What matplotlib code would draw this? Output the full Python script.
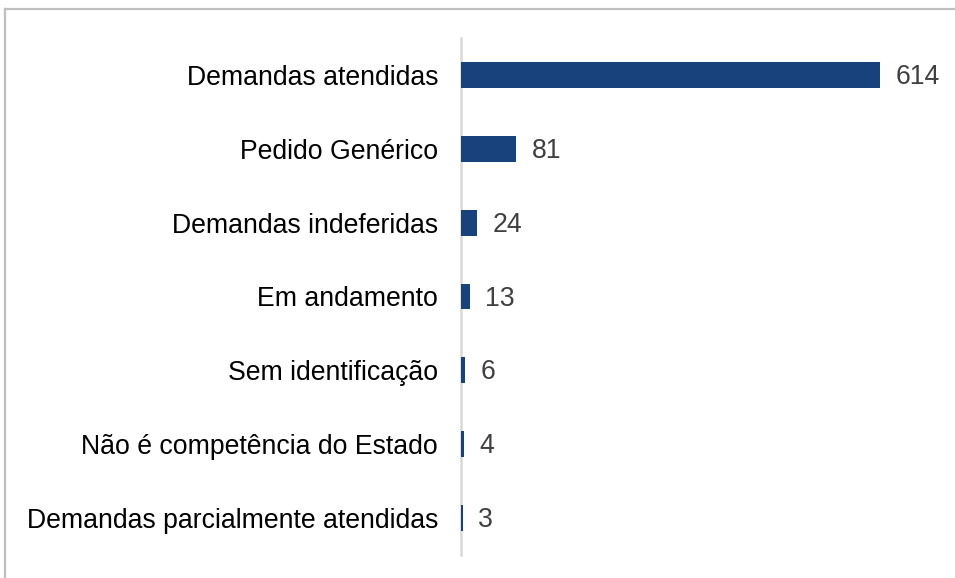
import matplotlib
matplotlib.use("Agg")
import matplotlib.pyplot as plt
from matplotlib.lines import Line2D

categories = ["Demandas atendidas", "Pedido Genérico", "Demandas indeferidas",
              "Em andamento", "Sem identificação", "Não é competência do Estado",
              "Demandas parcialmente atendidas"]
values = [614, 81, 24, 13, 6, 4, 3]

plt.rcParams['font.family'] = ['Liberation Sans', 'DejaVu Sans']

fig = plt.figure(figsize=(9.55, 5.78), dpi=100)
ax = fig.add_axes([461/955, 1 - 555/578, (945 - 461)/955, (555 - 38)/578])

ypos = list(range(len(categories)))
ax.barh(ypos, values, height=0.35, color="#17427C", antialiased=False, linewidth=0)
ax.set_ylim(len(categories) - 0.5, -0.5)
ax.set_xlim(0, 484 / (419 / 614))
ax.set_yticks(ypos)
ax.set_yticklabels(categories, fontsize=19.2, color="black")
ax.tick_params(axis='y', length=0, pad=16.5)
ax.set_xticks([])
for s in ["top", "right", "bottom"]:
    ax.spines[s].set_visible(False)
ax.spines["left"].set_color("#d9d9d9")
ax.spines["left"].set_linewidth(1.8)
ax.spines["left"].set_zorder(0.5)

for y, v in zip(ypos, values):
    ax.annotate(str(v), (v, y), xytext=(11, -1.5), textcoords="offset points",
                va="center", ha="left", fontsize=19.2, color="#404040")

# outer frame (top and left visible)
fig.add_artist(Line2D([5/955, 1], [1 - 9/578, 1 - 9/578], color="#bfbfbf", lw=1.6,
                      transform=fig.transFigure))
fig.add_artist(Line2D([5/955, 5/955], [0, 1 - 9/578], color="#bfbfbf", lw=1.6,
                      transform=fig.transFigure))

fig.savefig("out.png", dpi=100)
